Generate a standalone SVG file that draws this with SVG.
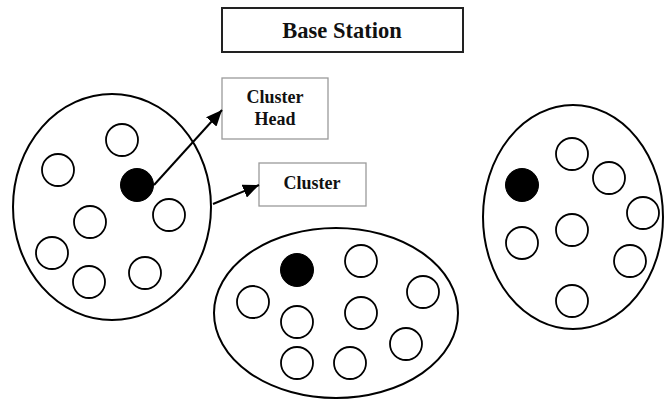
<svg xmlns="http://www.w3.org/2000/svg" width="666" height="405" viewBox="0 0 666 405">
<defs>
<style>
.cl{fill:#fff;stroke:#000;stroke-width:2}
.n{fill:#fff;stroke:#000;stroke-width:1.8}
.h{fill:#000;stroke:#000;stroke-width:1}
.lb{fill:#fff;stroke:#9a9a9a;stroke-width:1.3}
.t{font-family:"Liberation Serif","Times New Roman",serif;font-weight:bold;fill:#111;text-anchor:middle}
.c{stroke:#000;stroke-width:2;fill:none}
</style>
<marker id="ah" viewBox="0 0 16 14" refX="16" refY="7" markerWidth="16" markerHeight="14" orient="auto" markerUnits="userSpaceOnUse">
<path d="M0,0 L16,7 L0,14 z" fill="#000"/>
</marker>
</defs>
<rect width="666" height="405" fill="#fff"/>
<g id="base-station">
<rect x="222" y="8" width="241" height="44" fill="#fff" stroke="#222" stroke-width="2"/>
<text class="t" x="342" y="38" font-size="22.5">Base Station</text>
</g>
<g id="cluster-1">
<ellipse class="cl" cx="112" cy="207" rx="99" ry="113"/>
<circle class="n" cx="122" cy="140" r="16"/>
<circle class="n" cx="58" cy="170" r="16"/>
<circle class="h" cx="137" cy="185" r="16.5"/>
<circle class="n" cx="169" cy="215" r="16"/>
<circle class="n" cx="90" cy="222" r="16"/>
<circle class="n" cx="52" cy="253" r="16"/>
<circle class="n" cx="145" cy="273" r="16"/>
<circle class="n" cx="89" cy="282" r="16"/>
</g>
<g id="cluster-2">
<ellipse class="cl" cx="336" cy="313" rx="122" ry="85"/>
<circle class="h" cx="297" cy="270" r="16.5"/>
<circle class="n" cx="361" cy="261" r="16"/>
<circle class="n" cx="423" cy="292" r="16"/>
<circle class="n" cx="253" cy="302" r="16"/>
<circle class="n" cx="297" cy="322" r="16"/>
<circle class="n" cx="361" cy="313" r="16"/>
<circle class="n" cx="406" cy="344" r="16"/>
<circle class="n" cx="297" cy="363" r="16"/>
<circle class="n" cx="350" cy="363" r="16"/>
</g>
<g id="cluster-3">
<ellipse class="cl" cx="573" cy="217" rx="90" ry="112"/>
<circle class="h" cx="522" cy="185" r="16.5"/>
<circle class="n" cx="572" cy="154" r="16"/>
<circle class="n" cx="609" cy="178" r="16"/>
<circle class="n" cx="643" cy="213" r="16"/>
<circle class="n" cx="572" cy="230" r="16"/>
<circle class="n" cx="522" cy="243" r="16"/>
<circle class="n" cx="630" cy="261" r="16"/>
<circle class="n" cx="572" cy="301" r="16"/>
</g>
<g id="label-cluster-head">
<rect class="lb" x="222" y="78" width="106" height="61"/>
<text class="t" x="275" y="103" font-size="18">Cluster</text>
<text class="t" x="275" y="125" font-size="18">Head</text>
</g>
<g id="label-cluster">
<rect class="lb" x="259" y="163" width="107" height="43"/>
<text class="t" x="312" y="189" font-size="18">Cluster</text>
</g>
<g id="connectors">
<line class="c" x1="154" y1="185" x2="222" y2="110" marker-end="url(#ah)"/>
<line class="c" x1="213" y1="204" x2="259" y2="185" marker-end="url(#ah)"/>
</g>
</svg>
